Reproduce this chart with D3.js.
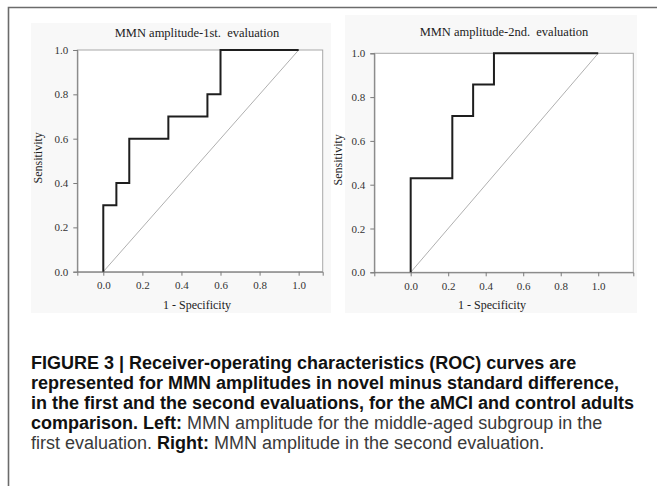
<!DOCTYPE html>
<html>
<head>
<meta charset="utf-8">
<script src="https://cdn.jsdelivr.net/npm/d3@7"></script>
<style>
  html, body { margin: 0; padding: 0; background: #fff; }
  svg { display: block; }
</style>
</head>
<body>
<svg id="fig"></svg>
<script>
// ROC data (x = 1 - specificity, y = sensitivity)
const firstFpr = [0, 0, 0.067, 0.133, 0.333, 0.533, 0.6, 1.0];
const firstTpr = [0, 0.3, 0.4, 0.6, 0.7, 0.8, 1.0, 1.0];
const secondFpr = [0, 0, 0.222, 0.333, 0.444, 1.0];
const secondTpr = [0, 0.429, 0.714, 0.857, 1.0, 1.0];
const tickValues = [0, 0.2, 0.4, 0.6, 0.8, 1.0];
const chartTitles = ['MMN amplitude-1st.  evaluation', 'MMN amplitude-2nd.  evaluation'];

const W = 657, H = 486;
const svg = d3.select('#fig').attr('width', W).attr('height', H);

// outer figure border (top + left only, the rest is cropped)
svg.append('path')
  .attr('d', `M8.5,${H} V7.5 H${W}`)
  .attr('fill', 'none')
  .attr('stroke', '#6b6b6b')
  .attr('stroke-width', 1.6);

function drawRoc(fpr, tpr, title, opt) {
  const pts = fpr.map((f, i) => [f, tpr[i]]);
  const x = d3.scaleLinear().domain(opt.xDomain).range([opt.left, opt.right]);
  const y = d3.scaleLinear().domain([0, 1]).range([opt.bottom, opt.top]);

  const g = svg.append('g').attr('font-family', '"Liberation Serif", serif');

  // faint picture background
  g.append('rect')
    .attr('x', opt.bg[0]).attr('y', opt.bg[1])
    .attr('width', opt.bg[2] - opt.bg[0]).attr('height', opt.bg[3] - opt.bg[1])
    .attr('fill', '#f8f8f8');

  // plot area
  g.append('rect')
    .attr('x', opt.left).attr('y', opt.top)
    .attr('width', opt.right - opt.left).attr('height', opt.bottom - opt.top)
    .attr('fill', '#fff')
    .attr('stroke', '#a8a8a8')
    .attr('stroke-width', 1);

  const yAxis = g.append('g')
    .attr('transform', `translate(${opt.left},0)`)
    .call(d3.axisLeft(y).tickValues(tickValues).tickFormat(d3.format('.1f')).tickSize(4).tickPadding(5));
  const xAxis = g.append('g')
    .attr('transform', `translate(0,${opt.bottom})`)
    .call(d3.axisBottom(x).tickValues(tickValues).tickFormat(d3.format('.1f')).tickSize(4).tickPadding(6));
  [xAxis, yAxis].forEach(a => {
    a.select('.domain').attr('stroke', '#7a7a7a');
    a.selectAll('.tick line').attr('stroke', '#7a7a7a');
    a.selectAll('.tick text')
      .attr('font-family', '"Liberation Serif", serif')
      .attr('font-size', 11)
      .attr('fill', '#333');
  });

  // reference diagonal
  g.append('line')
    .attr('x1', x(0)).attr('y1', y(0))
    .attr('x2', x(1)).attr('y2', y(1))
    .attr('stroke', '#b0b0b0')
    .attr('stroke-width', 1);

  // ROC step curve
  g.append('path')
    .datum(pts)
    .attr('d', d3.line().x(d => x(d[0])).y(d => y(d[1])).curve(d3.curveStepAfter))
    .attr('fill', 'none')
    .attr('stroke', '#1e1e1e')
    .attr('stroke-width', 2);

  g.append('text')
    .attr('x', opt.titleX).attr('y', opt.titleY)
    .attr('text-anchor', 'middle')
    .attr('font-size', 12.5)
    .attr('fill', '#222')
    .style('white-space', 'pre')
    .text(title);

  g.append('text')
    .attr('transform', `translate(${opt.yLabelX},${(opt.top + opt.bottom) / 2 - 3}) rotate(-90)`)
    .attr('text-anchor', 'middle')
    .attr('font-size', 12)
    .attr('fill', '#222')
    .text('Sensitivity');

  g.append('text')
    .attr('x', opt.xLabelX).attr('y', 309)
    .attr('text-anchor', 'middle')
    .attr('font-size', 12)
    .attr('fill', '#222')
    .text('1 - Specificity');
}

drawRoc(firstFpr, firstTpr, chartTitles[0], {
  xDomain: [-0.133, 1.123], left: 77.3, right: 322.7, top: 50, bottom: 271.7,
  bg: [31, 23, 331, 313], titleX: 197, titleY: 37, yLabelX: 42, xLabelX: 197
});
drawRoc(secondFpr, secondTpr, chartTitles[1], {
  xDomain: [-0.194, 1.187], left: 374.3, right: 633.3, top: 53.3, bottom: 272.3,
  bg: [345, 15, 637, 313], titleX: 504, titleY: 36, yLabelX: 342, xLabelX: 492
});

// caption
const captionLines = [
  [['FIGURE 3 | Receiver-operating characteristics (ROC) curves are', true]],
  [['represented for MMN amplitudes in novel minus standard difference,', true]],
  [['in the first and the second evaluations, for the aMCI and control adults', true]],
  [['comparison. Left:', true], [' MMN amplitude for the middle-aged subgroup in the', false]],
  [['first evaluation. ', false], ['Right:', true], [' MMN amplitude in the second evaluation.', false]]
];
const cap = svg.append('text')
  .attr('font-family', '"Liberation Sans", Arial, sans-serif')
  .attr('font-size', 18)
  .style('white-space', 'pre');
captionLines.forEach((line, i) => {
  line.forEach(([txt, bold], j) => {
    const t = cap.append('tspan').text(txt)
      .attr('font-weight', bold ? 'bold' : 'normal')
      .attr('fill', bold ? '#111' : '#3a3a3a');
    if (j === 0) t.attr('x', 31).attr('y', 369 + i * 20);
  });
});
</script>
</body>
</html>
